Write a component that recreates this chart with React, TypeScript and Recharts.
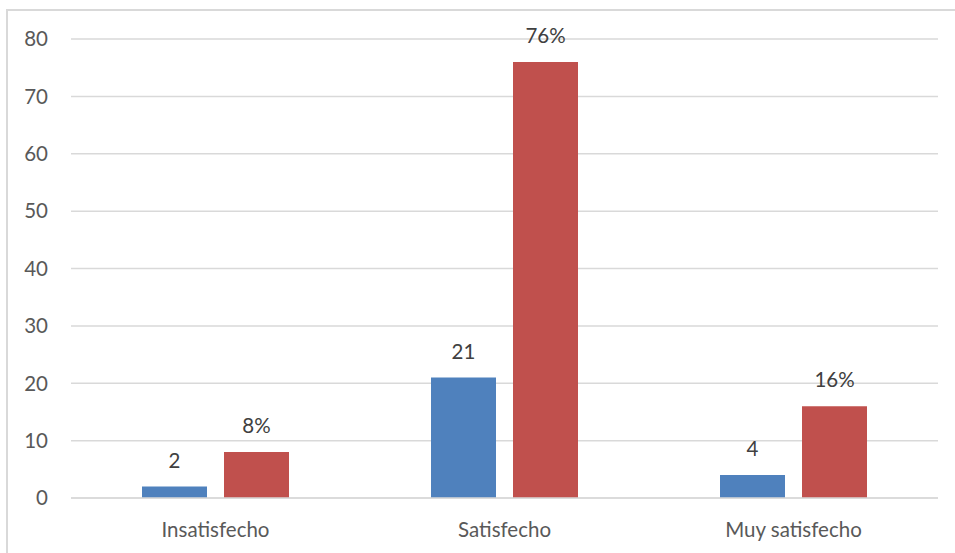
import React from "react";
import { BarChart, Bar, XAxis, YAxis, CartesianGrid, LabelList } from "recharts";

const categories = ["Insatisfecho", "Satisfecho", "Muy satisfecho"];
const counts = [2, 21, 4];
const percents = [8, 76, 16];
const yTicks = [0, 10, 20, 30, 40, 50, 60, 70, 80];

const data = categories.map((name, i) => ({ name, count: counts[i], pct: percents[i] }));

const FONT = "Lato, 'Open Sans', sans-serif";
const FS = 20.5;

export default function App() {
  return (
    <div style={{ position: "absolute", left: 0, top: 0, width: 955, height: 553, overflow: "hidden", background: "#fff" }}>
      <div
        style={{
          position: "absolute",
          left: 6,
          top: 9,
          width: 1000,
          height: 700,
          border: "2px solid #D9D9D9",
          boxSizing: "border-box",
        }}
      />
      <div style={{ position: "absolute", left: 0, top: 0 }}>
        <BarChart
          width={955}
          height={553}
          data={data}
          margin={{ top: 39, right: 17, bottom: 25, left: 0 }}
          barCategoryGap={71}
          barGap={17}
        >
          <CartesianGrid vertical={false} stroke="#D9D9D9" strokeWidth={1.5} />
          <XAxis
            dataKey="name"
            axisLine={{ stroke: "#D9D9D9", strokeWidth: 1.5 }}
            tickLine={false}
            tickMargin={18}
            height={30}
            tick={{ fill: "#595959", fontSize: FS, fontFamily: FONT }}
          />
          <YAxis
            width={71}
            domain={[0, 80]}
            ticks={yTicks}
            axisLine={false}
            tickLine={false}
            tickMargin={17}
            tick={{ fill: "#595959", fontSize: FS, fontFamily: FONT }}
          />
          <Bar dataKey="count" fill="#4F81BD" isAnimationActive={false}>
            <LabelList
              dataKey="count"
              position="top"
              offset={19}
              style={{ fill: "#404040", fontSize: FS, fontFamily: FONT }}
            />
          </Bar>
          <Bar dataKey="pct" fill="#C0504D" isAnimationActive={false}>
            <LabelList
              dataKey="pct"
              position="top"
              offset={19}
              formatter={(v: any) => `${v}%`}
              style={{ fill: "#404040", fontSize: FS, fontFamily: FONT }}
            />
          </Bar>
        </BarChart>
      </div>
    </div>
  );
}
